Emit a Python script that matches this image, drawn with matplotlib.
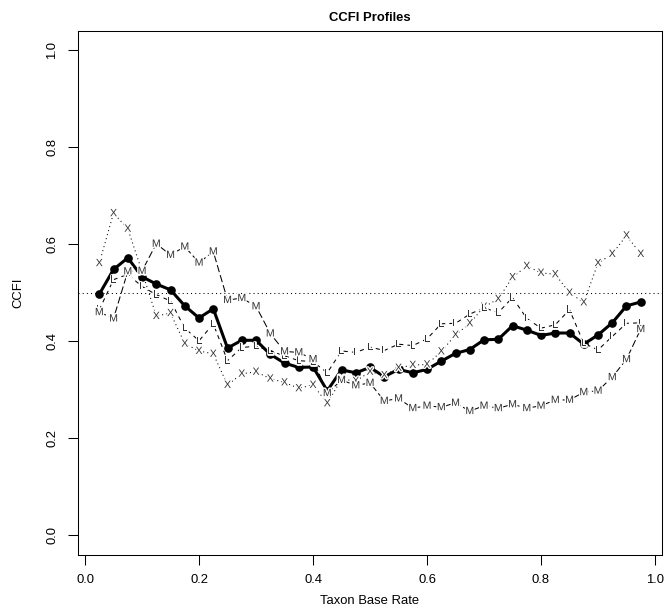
import matplotlib
matplotlib.use("Agg")
import matplotlib.pyplot as plt
import matplotlib.patheffects as pe

plt.rcParams['font.family'] = ['Liberation Sans', 'DejaVu Sans']

# taxon base rates
base_rate = [0.025, 0.050, 0.075, 0.100, 0.125, 0.150, 0.175, 0.200, 0.225, 0.250,
             0.275, 0.300, 0.325, 0.350, 0.375, 0.400, 0.425, 0.450, 0.475, 0.500,
             0.525, 0.550, 0.575, 0.600, 0.625, 0.650, 0.675, 0.700, 0.725, 0.750,
             0.775, 0.800, 0.825, 0.850, 0.875, 0.900, 0.925, 0.950, 0.975]

# mean CCFI (bold line)
ccfi_mean = [0.497, 0.548, 0.572, 0.533, 0.518, 0.506, 0.473, 0.448, 0.467, 0.386,
             0.402, 0.402, 0.373, 0.355, 0.346, 0.347, 0.298, 0.341, 0.335, 0.346,
             0.327, 0.342, 0.335, 0.342, 0.359, 0.375, 0.383, 0.403, 0.404, 0.432,
             0.423, 0.412, 0.417, 0.417, 0.394, 0.413, 0.438, 0.473, 0.481]

# profile "X"
ccfi_x = [0.561, 0.664, 0.632, 0.544, 0.452, 0.458, 0.395, 0.380, 0.374, 0.310,
          0.333, 0.337, 0.323, 0.315, 0.303, 0.310, 0.272, 0.322, 0.318, 0.337,
          0.330, 0.345, 0.351, 0.352, 0.379, 0.413, 0.437, 0.471, 0.487, 0.532,
          0.555, 0.541, 0.538, 0.500, 0.480, 0.561, 0.580, 0.618, 0.580]

# profile "L"
ccfi_l = [0.465, 0.527, 0.538, 0.513, 0.496, 0.483, 0.427, 0.401, 0.436, 0.360,
          0.387, 0.390, 0.380, 0.370, 0.360, 0.358, 0.335, 0.380, 0.377, 0.388,
          0.381, 0.394, 0.391, 0.405, 0.436, 0.437, 0.456, 0.469, 0.459, 0.490,
          0.447, 0.427, 0.434, 0.465, 0.396, 0.382, 0.410, 0.437, 0.438]

# profile "M"
ccfi_m = [0.460, 0.447, 0.544, 0.545, 0.601, 0.578, 0.595, 0.562, 0.585, 0.485,
          0.489, 0.472, 0.416, 0.379, 0.377, 0.363, 0.293, 0.320, 0.309, 0.314,
          0.277, 0.282, 0.262, 0.267, 0.264, 0.273, 0.256, 0.267, 0.262, 0.270,
          0.262, 0.267, 0.279, 0.279, 0.295, 0.298, 0.326, 0.363, 0.425]

profiles = [("X", ccfi_x, (0, (1, 3))),
            ("L", ccfi_l, (0, (4, 4))),
            ("M", ccfi_m, (0, (7, 3)))]

fig = plt.figure(figsize=(6.64, 6.11), dpi=100)
ax = fig.add_axes([0.1169, 0.0922, 0.8807, 0.8573])

ax.axhline(0.5, color="black", lw=0.75, ls=(0, (1, 3)))

for letter, vals, style in profiles:
    ax.plot(base_rate, vals, color="black", lw=0.75, ls=style)
    for xv, yv in zip(base_rate, vals):
        ax.text(xv, yv, letter, fontsize=7.6, ha="center", va="center", color="#333333",
                path_effects=[pe.withStroke(linewidth=2.0, foreground="white")])

ax.plot(base_rate, ccfi_mean, color="black", lw=2.2, marker="o", ms=5.2)

ax.set_xlim(-0.013, 1.013)
ax.set_ylim(-0.04, 1.04)
ax.set_xticks([0.0, 0.2, 0.4, 0.6, 0.8, 1.0])
ax.set_yticks([0.0, 0.2, 0.4, 0.6, 0.8, 1.0])
ax.set_xticklabels(["0.0", "0.2", "0.4", "0.6", "0.8", "1.0"])
ax.set_yticklabels(["0.0", "0.2", "0.4", "0.6", "0.8", "1.0"], rotation=90, va="center")
ax.tick_params(axis="both", length=7.2, width=0.75, labelsize=9.4)
ax.tick_params(axis="x", pad=7.0)
ax.tick_params(axis="y", pad=6.7)
for s in ax.spines.values():
    s.set_linewidth(0.75)

ax.set_title("CCFI Profiles", fontsize=9.4, fontweight="bold", pad=7)
ax.set_xlabel("Taxon Base Rate", fontsize=9.4)
ax.set_ylabel("CCFI", fontsize=9.4)
ax.xaxis.set_label_coords(0.5, -0.0884)
ax.xaxis.label.set_va("center")
ax.yaxis.set_label_coords(-0.1019, 0.5)
ax.yaxis.label.set_va("center")

fig.savefig("out.png", dpi=100)
